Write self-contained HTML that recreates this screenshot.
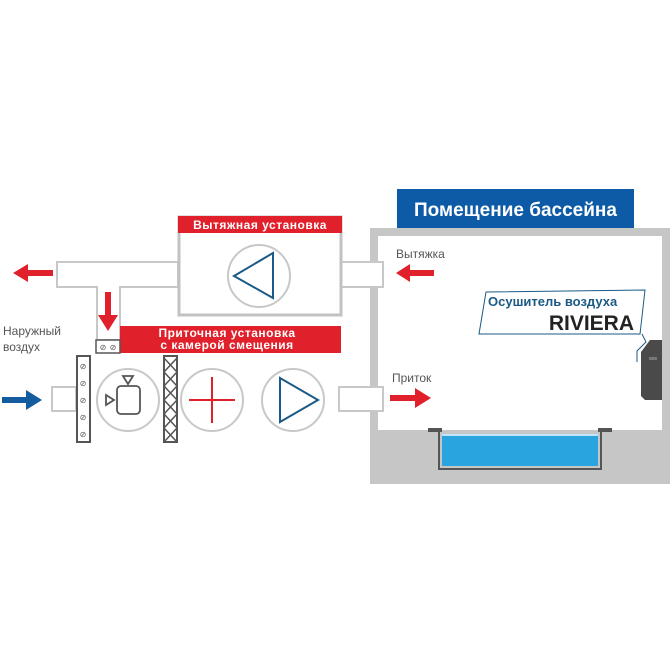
<!DOCTYPE html>
<html><head><meta charset="utf-8"><style>
html,body{margin:0;padding:0;background:#fff;}
svg{display:block;}
text{font-family:"Liberation Sans","DejaVu Sans",sans-serif;}
</style></head><body>
<svg width="670" height="671" viewBox="0 0 670 671" xmlns="http://www.w3.org/2000/svg">
<rect width="670" height="671" fill="#fff"/>
<!-- Room -->
<rect x="370" y="228" width="300" height="256" fill="#c6c6c6"/>
<rect x="378" y="236" width="284" height="194" fill="#fff"/>
<rect x="397" y="189" width="237" height="39" fill="#0d5ba6"/>
<text x="515.5" y="216" font-size="19" font-weight="bold" fill="#fff" text-anchor="middle">Помещение бассейна</text>
<!-- Pool -->
<path d="M428 432 V428 H442 V466 H598 V428 H612 V432 H602 V470 H438 V432 Z" fill="#555"/>
<rect x="440" y="432" width="160" height="36" fill="#c6c6c6"/>
<rect x="442" y="436" width="156" height="30" fill="#2aa4df"/>
<rect x="442" y="434" width="156" height="2" fill="#bfe6f7"/>
<!-- Ducts -->
<g fill="#fff" stroke="#c8c8c8" stroke-width="2">
<path d="M57 262 H178 V287 H120 V340 H97 V287 H57 Z"/>
<rect x="341" y="262" width="42" height="25"/>
<rect x="52" y="387" width="24" height="24"/>
<rect x="339" y="387" width="44" height="24"/>
</g>
<!-- Exhaust unit -->
<rect x="179" y="217" width="162" height="98" fill="#fff" stroke="#c2c2c2" stroke-width="3"/>
<rect x="178" y="216" width="164" height="17" fill="#e0202a"/>
<text x="260" y="229" font-size="12" font-weight="bold" fill="#fff" text-anchor="middle" letter-spacing="0.5">Вытяжная установка</text>
<circle cx="259" cy="276" r="31" fill="#fff" stroke="#c8c8c8" stroke-width="2"/>
<path d="M273 253 V298 L234 276 Z" fill="none" stroke="#1b5a86" stroke-width="2"/>
<!-- Supply label -->
<rect x="120" y="326" width="221" height="27" fill="#e0202a"/>
<text x="227" y="337" font-size="12" font-weight="bold" fill="#fff" text-anchor="middle" letter-spacing="0.5">Приточная установка</text>
<text x="227" y="349" font-size="12" font-weight="bold" fill="#fff" text-anchor="middle" letter-spacing="0.5">с камерой смещения</text>
<rect x="96" y="340" width="24" height="13" fill="#fff" stroke="#555" stroke-width="1.5"/>
<text x="103" y="350" font-size="8" fill="#555" text-anchor="middle">⊘</text>
<text x="113" y="350" font-size="8" fill="#555" text-anchor="middle">⊘</text>
<!-- Text -->
<text x="3" y="335" font-size="12" fill="#555">Наружный</text>
<text x="3" y="351" font-size="12" fill="#555">воздух</text>
<text x="396" y="258" font-size="12" fill="#555">Вытяжка</text>
<text x="392" y="382" font-size="12" fill="#555">Приток</text>
<!-- Filter -->
<rect x="77" y="356" width="13" height="86" fill="#fff" stroke="#555" stroke-width="2"/>
<g font-size="8" fill="#555" text-anchor="middle">
<text x="83" y="369">⊘</text><text x="83" y="386">⊘</text><text x="83" y="403">⊘</text><text x="83" y="420">⊘</text><text x="83" y="437">⊘</text>
</g>
<!-- Damper motor circle -->
<circle cx="128" cy="400" r="31" fill="#fff" stroke="#c8c8c8" stroke-width="2"/>
<rect x="117" y="386" width="23" height="28" rx="4" fill="#fff" stroke="#555" stroke-width="1.8"/>
<path d="M123 376 H133 L128 384 Z" fill="#fff" stroke="#555" stroke-width="1.8"/>
<path d="M106 395 V405 L114 400 Z" fill="#fff" stroke="#555" stroke-width="1.8"/>
<!-- Heat exchanger -->
<rect x="164" y="356" width="13" height="86" fill="#fff" stroke="#555" stroke-width="2"/>
<path d="M164 358 L177 372 L164 386 L177 400 L164 414 L177 428 L164 442 M177 358 L164 372 L177 386 L164 400 L177 414 L164 428 L177 442" fill="none" stroke="#555" stroke-width="1.5"/>
<!-- Heater -->
<circle cx="212" cy="400" r="31" fill="#fff" stroke="#c8c8c8" stroke-width="2"/>
<path d="M189 400 H235 M212 377 V423" stroke="#e0202a" stroke-width="2"/>
<!-- Supply fan -->
<circle cx="293" cy="400" r="31" fill="#fff" stroke="#c8c8c8" stroke-width="2"/>
<path d="M280 378 V422 L318 400 Z" fill="none" stroke="#1b5a86" stroke-width="2"/>
<!-- Arrows -->
<g fill="#e0202a">
<path d="M53 270 H28 V264 L13 273 L28 282 V276 H53 Z"/>
<path d="M105 292 H111 V315 H118 L108 331 L98 315 H105 Z"/>
<path d="M434 270 H410 V264 L396 273 L410 282 V276 H434 Z"/>
<path d="M390 395 H415 V388 L431 398 L415 408 V401 H390 Z"/>
</g>
<path d="M2 397 H26 V390 L42 400 L26 410 V403 H2 Z" fill="#135c9e"/>
<!-- Dehumidifier -->
<polygon points="486,292 645,290 640,334 479,334" fill="#fff" stroke="#1b5a86" stroke-width="1"/>
<text x="488" y="306" font-size="13" font-weight="bold" fill="#1b5a86">Осушитель воздуха</text>
<text x="634" y="330" font-size="21" font-weight="bold" fill="#222" text-anchor="end">RIVIERA</text>
<path d="M642 334 L646 342 L637 351 V362" fill="none" stroke="#1b5a86" stroke-width="1"/>
<path d="M650 340 H662 V400 H645 L641 396 V352 Z" fill="#4a4a4a"/>
<rect x="649" y="357" width="8" height="3" fill="#777"/>
</svg>
</body></html>
